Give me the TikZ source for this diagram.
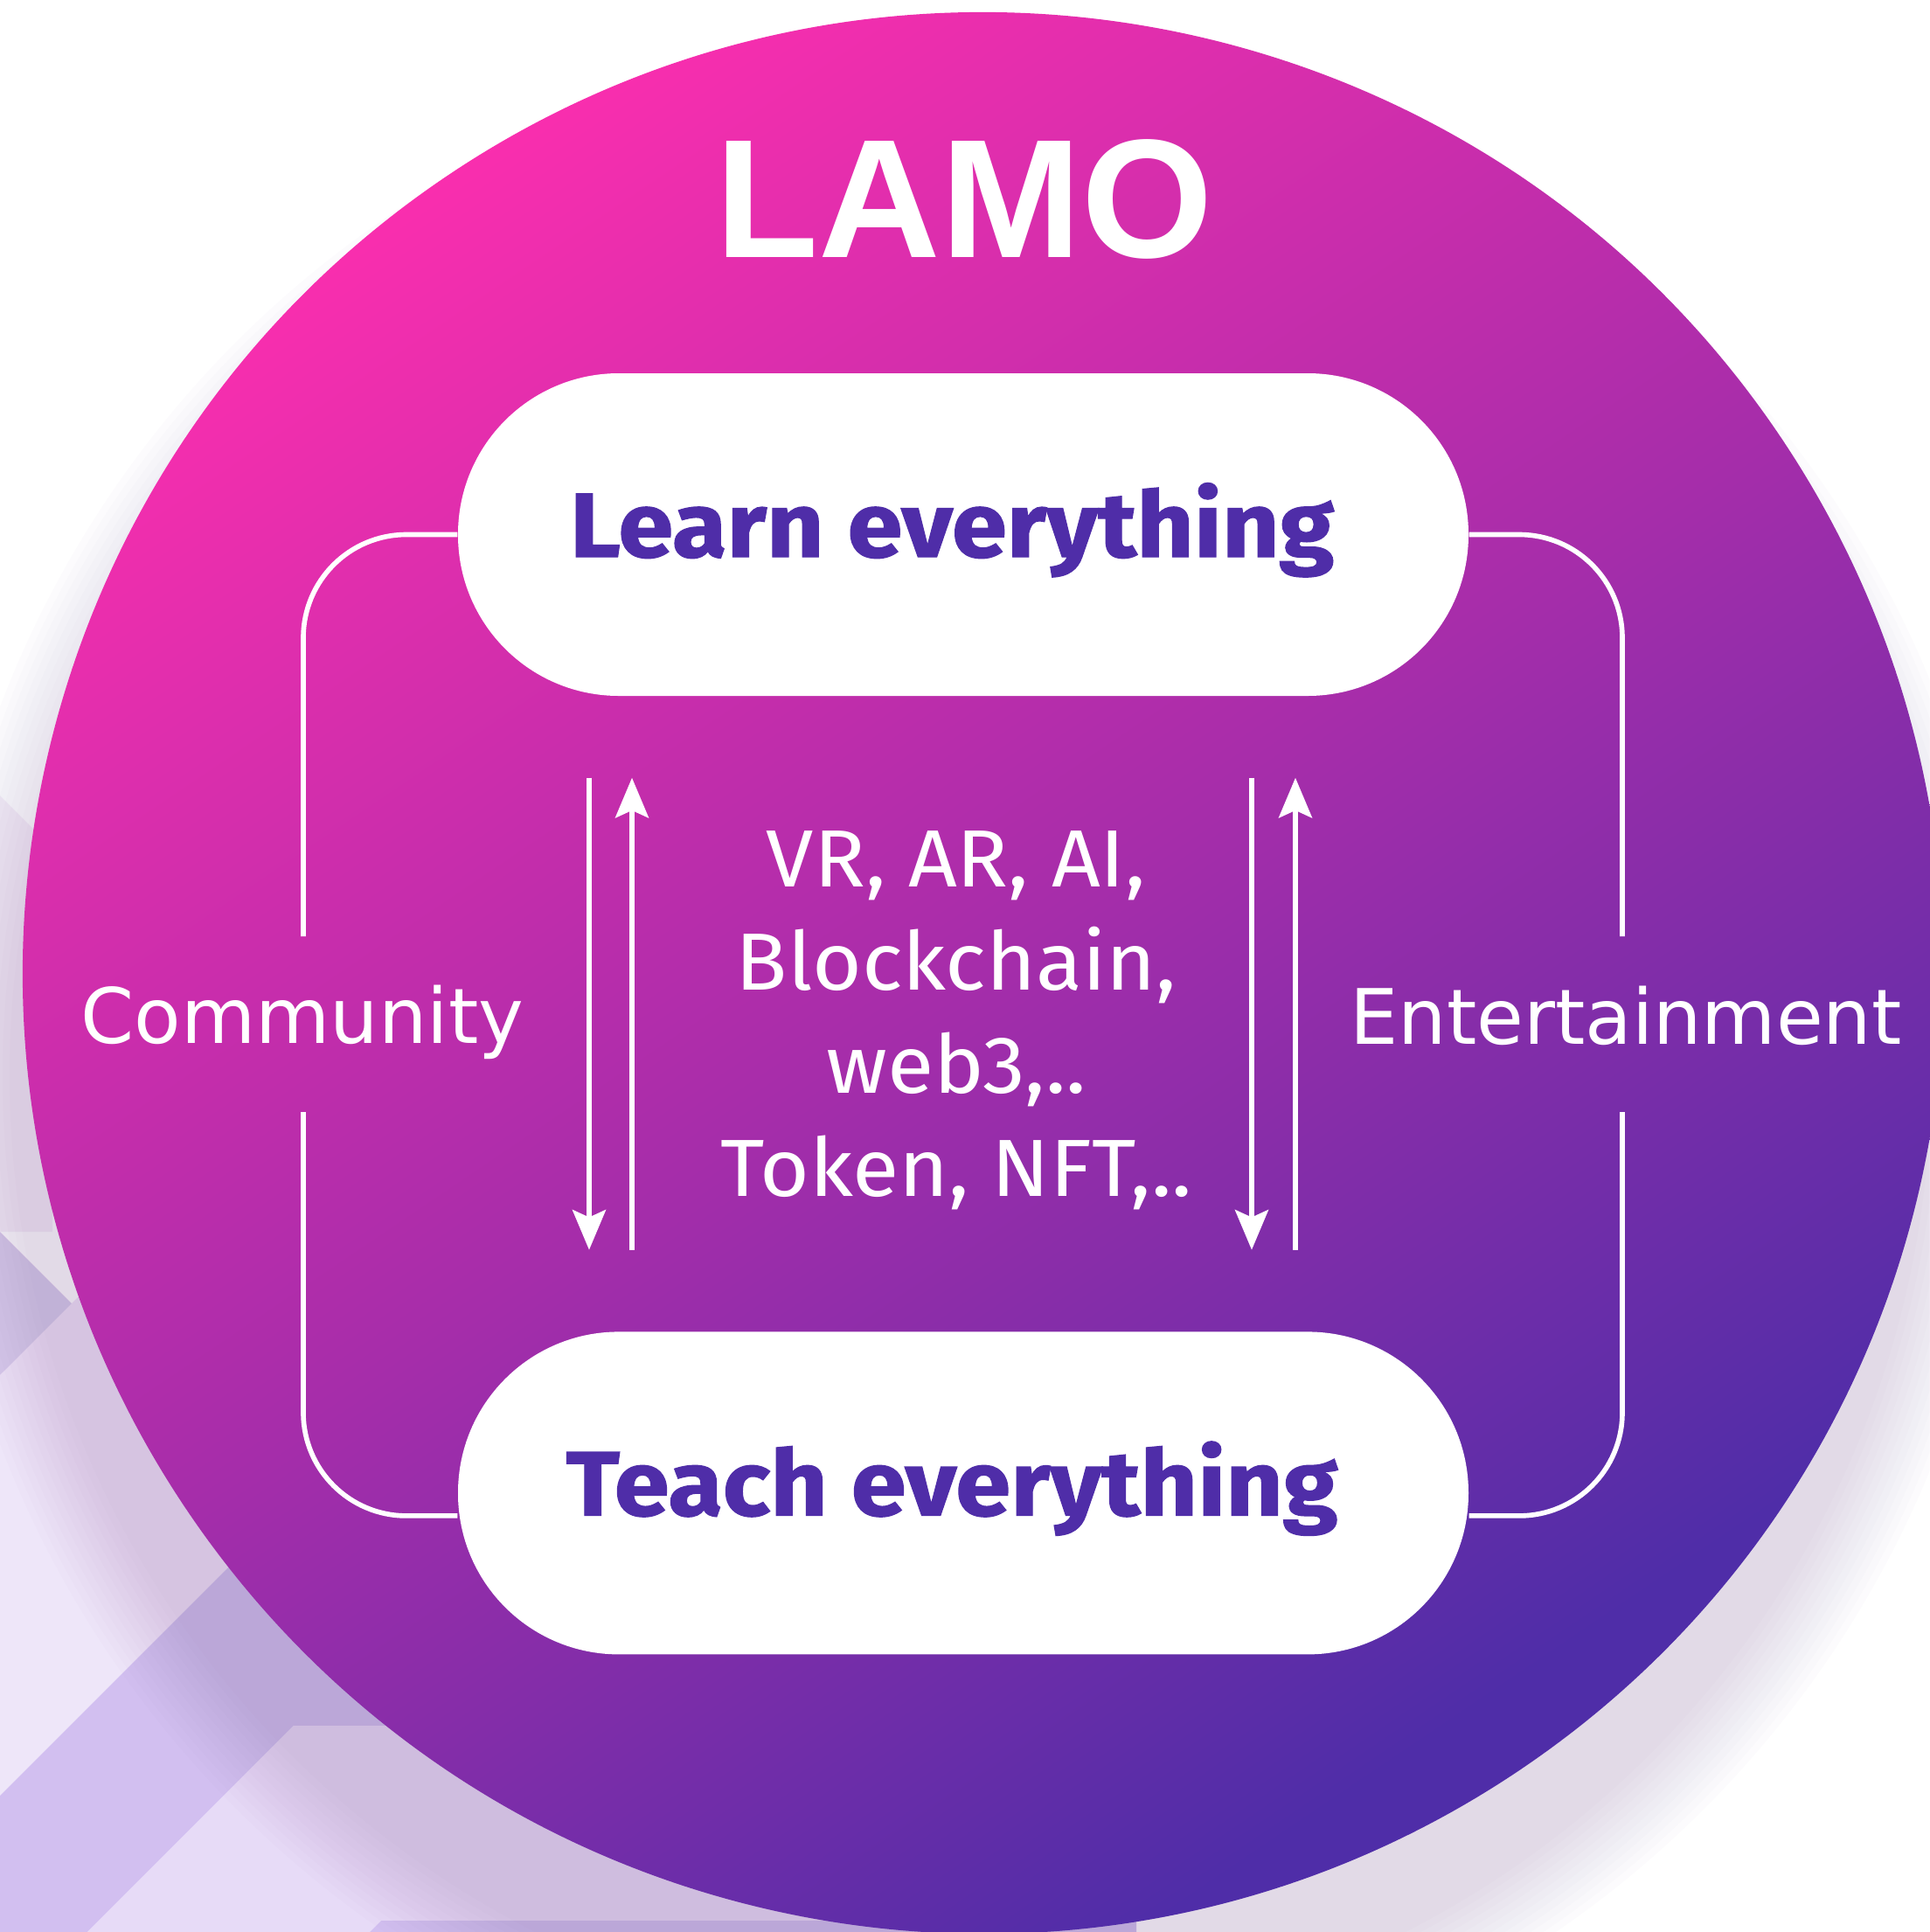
\documentclass[tikz,border=0pt]{standalone}
\usepackage{fontspec}
\setmainfont{DejaVu Sans}
\newfontfamily\headfont{Liberation Sans}
\newfontfamily\pillfont[FakeStretch=1.09,BoldFeatures={FakeBold=1.2}]{Fira Sans}
\newfontfamily\techfont[FakeStretch=1.05]{Fira Sans}
\usetikzlibrary{arrows.meta,positioning}
\definecolor{LamoPink}{HTML}{F92EAE}
\definecolor{LamoMid}{HTML}{A52DAA}
\definecolor{LamoIndigo}{HTML}{4F2DA8}
\definecolor{BandPale}{HTML}{EEE6F9}
\definecolor{BandWash}{HTML}{F4F0F9}
\definecolor{BandSoft}{HTML}{E7DBF7}
\definecolor{BandLilac}{HTML}{D2BFF0}
\definecolor{BandDusk}{HTML}{D9CAEE}
\definecolor{HaloTint}{HTML}{8A64A6}

% disc colours, indigo at the bottom, pink on top
\pgfdeclareverticalshading{lamodisc}{100bp}{color(0bp)=(LamoIndigo); color(27bp)=(LamoIndigo); color(50bp)=(LamoMid); color(75bp)=(LamoPink); color(100bp)=(LamoPink)}

\begin{document}
\begin{tikzpicture}[
  pill/.style={fill=white,rounded corners=1.84cm,minimum width=11.56cm,minimum height=3.69cm,inner sep=0pt,text height=0.7cm,text depth=0.19cm,text=LamoIndigo,font=\pillfont\bfseries\fontsize{29.7}{32}\selectfont},
  side/.style={text=white,inner sep=0pt,anchor=base,font=\fontsize{24.9}{30}\selectfont},
  link/.style={draw=white,line width=1.6pt,rounded corners=1.18cm},
  flow/.style={draw=white,line width=1.6pt,-{Stealth[length=13pt,width=10.8pt,inset=2.4pt]},shorten <=0.93cm,shorten >=0.93cm}
]
\useasboundingbox (0,0) rectangle (22.07,-22.10);
\fill[white] (0,0) rectangle (22.07,-22.10);

% lilac stripes behind the disc
\begin{scope}
\clip (0,0) rectangle (22.07,-22.10);
\fill[BandWash] (0,-9.1) -- (0.6,-9.7) -- (0.6,-14.09) -- (0,-14.09) -- cycle;
\fill[BandDusk] (0,-14.09) -- (0.85,-14.94) -- (0,-15.73) -- cycle;
\fill[BandPale] (0,-15.73) -- (5.73,-10.00) -- (10.54,-10.00) -- (0,-20.54) -- cycle;
\fill[BandLilac] (0,-20.54) -- (5.54,-15.00) -- (13.00,-15.00) -- (13.00,-19.74) -- (3.36,-19.74) -- (1.00,-22.10) -- (0,-22.10) -- cycle;
\fill[BandSoft] (3.36,-19.74) -- (13.00,-19.74) -- (13.00,-21.97) -- (4.36,-21.97) -- (4.23,-22.10) -- (1.00,-22.10) -- cycle;
\fill[BandLilac] (4.36,-21.97) -- (13.00,-21.97) -- (13.00,-22.10) -- (4.23,-22.10) -- cycle;
\end{scope}

% soft halo
\foreach \k in {0,...,11}
  \fill[HaloTint,opacity=0.018] (11.1,-12.3) circle ({10.99+0.08*\k});

% the disc
\begin{scope}[transform canvas={rotate around={34:(11.25,-11.13)}}]
\shade[shading=lamodisc] (11.25,-11.13) circle (10.99);
\end{scope}

\node[text=white,inner sep=0pt,font=\headfont\bfseries\fontsize{55}{60}\selectfont] (lamo) at (11.03,-2.28) {LAMO};

\node[pill] (learn) at (11.02,-6.115) {\hspace*{-0.26cm}Learn everything};
\node[pill,below=7.26cm of learn] (teach) {\hspace*{-0.26cm}Teach everything};

\node[text=white,align=center,inner sep=0pt,font=\techfont\fontsize{26.4}{33.6}\selectfont] (tech) at (10.94,-11.675) {VR, AR, AI,\\Blockchain,\\web3,..\\Token, NFT,..};

\node[side] (community) at (3.46,-11.93) {Community};
\node[side] (entertain) at (18.60,-11.94) {Entertainment};

\coordinate (commTop) at (3.47,-10.71);
\coordinate (commBot) at (3.47,-12.72);
\coordinate (entTop) at (18.56,-10.71);
\coordinate (entBot) at (18.56,-12.72);

\draw[link] (learn.west) -| (commTop);
\draw[link] (commBot) |- ([yshift=-0.26cm]teach.west);
\draw[link] (learn.east) -| (entTop);
\draw[link] (entBot) |- ([yshift=-0.26cm]teach.east);

% two-way arrows between the pills
\draw[flow] ([xshift=-4.28cm]learn.south) -- ([xshift=-4.28cm]teach.north);
\draw[flow] ([xshift=-3.79cm]teach.north) -- ([xshift=-3.79cm]learn.south);
\draw[flow] ([xshift=3.30cm]learn.south) -- ([xshift=3.30cm]teach.north);
\draw[flow] ([xshift=3.80cm]teach.north) -- ([xshift=3.80cm]learn.south);
\end{tikzpicture}
\end{document}
